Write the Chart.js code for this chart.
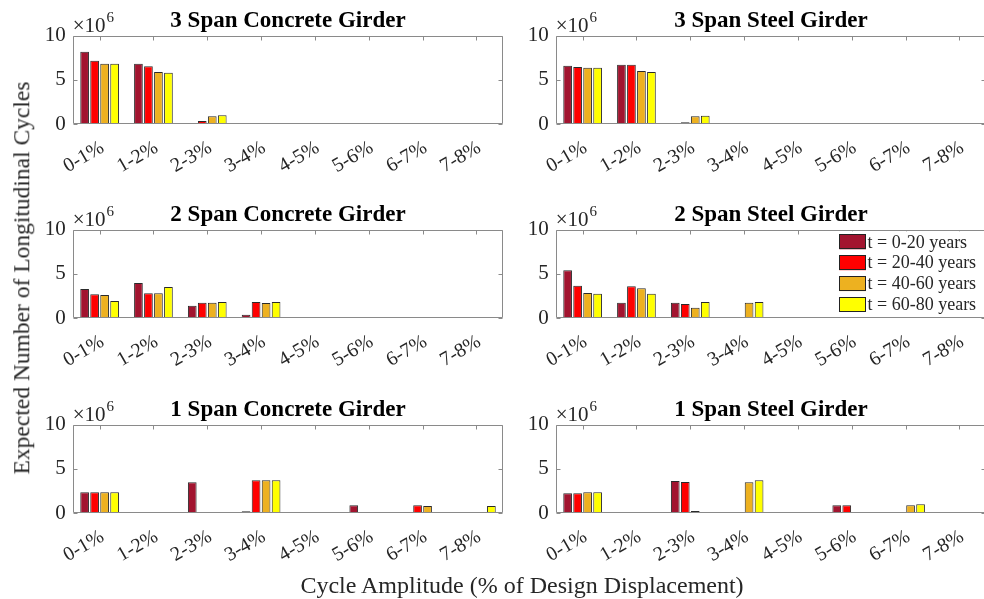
<!DOCTYPE html>
<html>
<head>
<meta charset="utf-8">
<script src="https://cdn.jsdelivr.net/npm/chart.js@4.4.1/dist/chart.umd.min.js"></script>
<style>
html,body{margin:0;padding:0;background:#fff;}
#wrap{position:relative;width:984px;height:599px;overflow:hidden;background:#fff;font-family:"Liberation Serif","Times New Roman",serif;}
#wrap canvas{position:absolute;}
#ylab{position:absolute;left:22px;top:278px;transform:translate(-50%,-50%) rotate(-90deg);white-space:nowrap;font-size:23.5px;line-height:23.5px;color:#262626;}
#xlab{position:absolute;left:522px;top:573px;transform:translateX(-50%);white-space:nowrap;font-size:24px;line-height:24px;color:#262626;}
</style>
</head>
<body>
<div id="wrap">
  <canvas id="c0"></canvas><canvas id="c1"></canvas>
  <canvas id="c2"></canvas><canvas id="c3"></canvas>
  <canvas id="c4"></canvas><canvas id="c5"></canvas>
  <div id="ylab">Expected Number of Longitudinal Cycles</div>
  <div id="xlab">Cycle Amplitude (% of Design Displacement)</div>
</div>
<script>
// ---------- data (values in units of 10^6 cycles) ----------
const categories = ['0-1%','1-2%','2-3%','3-4%','4-5%','5-6%','6-7%','7-8%'];
const seriesLabels = ['t = 0-20 years','t = 20-40 years','t = 40-60 years','t = 60-80 years'];
const yTicks = [0, 5, 10];
const panelTitles = ['3 Span Concrete Girder','3 Span Steel Girder','2 Span Concrete Girder','2 Span Steel Girder','1 Span Concrete Girder','1 Span Steel Girder'];

// one row per series: t=0-20, 20-40, 40-60, 60-80
const span3Concrete = [
  [8.17, 6.81, 0,    0, 0, 0, 0, 0],
  [7.15, 6.52, 0.34, 0, 0, 0, 0, 0],
  [6.81, 5.88, 0.87, 0, 0, 0, 0, 0],
  [6.81, 5.80, 0.98, 0, 0, 0, 0, 0]
];
const span3Steel = [
  [6.59, 6.70, 0,    0, 0, 0, 0, 0],
  [6.44, 6.70, 0.19, 0, 0, 0, 0, 0],
  [6.36, 5.99, 0.87, 0, 0, 0, 0, 0],
  [6.36, 5.88, 0.94, 0, 0, 0, 0, 0]
];
const span2Concrete = [
  [3.28, 3.95, 1.39, 0.38, 0, 0, 0, 0],
  [2.67, 2.79, 1.73, 1.81, 0, 0, 0, 0],
  [2.60, 2.79, 1.73, 1.69, 0, 0, 0, 0],
  [1.92, 3.50, 1.81, 1.81, 0, 0, 0, 0]
];
const span2Steel = [
  [5.39, 1.73, 1.73, 0,    0, 0, 0, 0],
  [3.65, 3.58, 1.58, 0.12, 0, 0, 0, 0],
  [2.82, 3.35, 1.17, 1.73, 0, 0, 0, 0],
  [2.75, 2.75, 1.81, 1.81, 0, 0, 0, 0]
];
const span1Concrete = [
  [2.34, 0, 3.47, 0.19, 0, 0.87, 0,    0],
  [2.34, 0, 0,    3.69, 0, 0,    0.87, 0],
  [2.34, 0, 0,    3.69, 0, 0,    0.79, 0.05],
  [2.34, 0, 0,    3.69, 0, 0,    0.08, 0.79]
];
const span1Steel = [
  [2.23, 0, 3.62, 0,    0, 0.87, 0,    0],
  [2.23, 0, 3.50, 0.08, 0, 0.87, 0,    0],
  [2.34, 0, 0.23, 3.47, 0, 0,    0.87, 0],
  [2.34, 0, 0,    3.69, 0, 0,    0.98, 0]
];

// ---------- styling / layout ----------
const seriesColors = ['#A2142F', '#FF0000', '#EDB120', '#FFFF00'];
const FONT = '"Liberation Serif","Times New Roman",serif';
const TXT = '#262626';
const AXIS = '#8a8a8a';

const panels = [
  {id:'c0', data:span3Concrete, title:panelTitles[0], col:0, row:0},
  {id:'c1', data:span3Steel,    title:panelTitles[1], col:1, row:0},
  {id:'c2', data:span2Concrete, title:panelTitles[2], col:0, row:1},
  {id:'c3', data:span2Steel,    title:panelTitles[3], col:1, row:1, legend:true},
  {id:'c4', data:span1Concrete, title:panelTitles[4], col:0, row:2},
  {id:'c5', data:span1Steel,    title:panelTitles[5], col:1, row:2}
];
const colGeom = [ {left:0,   width:510, yW:72.7, padR:6.7},
                  {left:510, width:480, yW:45.7, padR:3.7} ];
const rowGeom = [ {top:0,   height:194, padT:35.5, xH:70},
                  {top:194, height:194, padT:35.5, xH:70},
                  {top:389, height:210, padT:35.5, xH:86} ];

const framePlugin = {
  id: 'frame',
  afterDatasetsDraw(chart) {
    const {ctx, chartArea: a, scales: {x, y}} = chart;
    ctx.save();
    ctx.strokeStyle = AXIS;
    ctx.lineWidth = 1;
    const l = Math.round(a.left) + 0.5, t = Math.round(a.top) + 0.5;
    const r = Math.round(a.right) - 0.5, b = Math.round(a.bottom) - 0.5;
    ctx.beginPath();
    ctx.rect(l, t, r - l, b - t);
    const L = 4;
    categories.forEach((c, i) => {
      const px = Math.round(x.getPixelForValue(i)) + 0.5;
      ctx.moveTo(px, t); ctx.lineTo(px, t + L);
    });
    yTicks.forEach(v => {
      const py = Math.round(y.getPixelForValue(v)) + 0.5;
      ctx.moveTo(l, py); ctx.lineTo(l + L, py);
      ctx.moveTo(r, py); ctx.lineTo(r - L, py);
    });
    ctx.stroke();
    ctx.restore();
  },
  afterDraw(chart, args, opts) {
    const {ctx, chartArea: a} = chart;
    ctx.save();
    // title
    ctx.fillStyle = '#000';
    ctx.font = 'bold 23px ' + FONT;
    ctx.textAlign = 'center';
    ctx.textBaseline = 'alphabetic';
    ctx.fillText(opts.title, (a.left + a.right) / 2, a.top - 9);
    // exponent label
    ctx.fillStyle = TXT;
    ctx.textAlign = 'left';
    ctx.font = '21px ' + FONT;
    const base = '\u00D710';
    ctx.fillText(base, a.left, a.top - 3.5);
    const w = ctx.measureText(base).width;
    ctx.font = '15px ' + FONT;
    ctx.fillText('6', a.left + w + 1, a.top - 14);
    // legend
    if (opts.legend) {
      const sx = 329.3, sy0 = 40.3, sw = 26.7, sh = 15, step = 20.9;
      ctx.font = '18px ' + FONT;
      ctx.textBaseline = 'middle';
      chart.data.datasets.forEach((ds, i) => {
        const sy = sy0 + i * step;
        ctx.fillStyle = '#fff';
        ctx.fillRect(sx - 1, sy - 3, 160, step);
        ctx.fillStyle = ds.backgroundColor;
        ctx.fillRect(sx, sy, sw, sh);
        ctx.strokeStyle = '#222';
        ctx.lineWidth = 1;
        ctx.strokeRect(Math.round(sx) + 0.5, Math.round(sy) + 0.5, Math.round(sw) - 1, Math.round(sh) - 1);
        ctx.fillStyle = TXT;
        ctx.fillText(ds.label, sx + sw + 1.5, sy + sh / 2 + 1);
      });
    }
    ctx.restore();
  }
};

panels.forEach(p => {
  const cg = colGeom[p.col], rg = rowGeom[p.row];
  const cv = document.getElementById(p.id);
  cv.width = cg.width; cv.height = rg.height;
  cv.style.left = cg.left + 'px'; cv.style.top = rg.top + 'px';
  cv.style.width = cg.width + 'px'; cv.style.height = rg.height + 'px';
  new Chart(cv, {
    type: 'bar',
    data: {
      labels: categories,
      datasets: p.data.map((vals, i) => ({
        label: seriesLabels[i],
        data: vals,
        backgroundColor: seriesColors[i],
        borderColor: '#2a2a2a',
        borderWidth: 1,
        borderSkipped: 'start',
        categoryPercentage: 0.743,
        barPercentage: 0.87
      }))
    },
    options: {
      responsive: false,
      animation: false,
      devicePixelRatio: 1,
      layout: { padding: { top: rg.padT, left: 0, right: cg.padR, bottom: 0 } },
      plugins: {
        legend: { display: false },
        tooltip: { enabled: false },
        title: { display: false },
        frame: { title: p.title, legend: !!p.legend }
      },
      scales: {
        x: {
          grid: { display: false, drawTicks: false },
          border: { display: false },
          ticks: {
            autoSkip: false, minRotation: 30, maxRotation: 30,
            padding: 12, labelOffset: 3, color: TXT, font: { family: FONT, size: 20 }
          },
          afterFit: s => { s.height = rg.xH; }
        },
        y: {
          min: 0, max: 10,
          grid: { display: false, drawTicks: false },
          border: { display: false },
          afterBuildTicks: s => { s.ticks = yTicks.map(v => ({ value: v })); },
          ticks: { padding: 7, color: TXT, font: { family: FONT, size: 21 } },
          afterFit: s => { s.width = cg.yW; }
        }
      }
    },
    plugins: [framePlugin]
  });
});
</script>
</body>
</html>
